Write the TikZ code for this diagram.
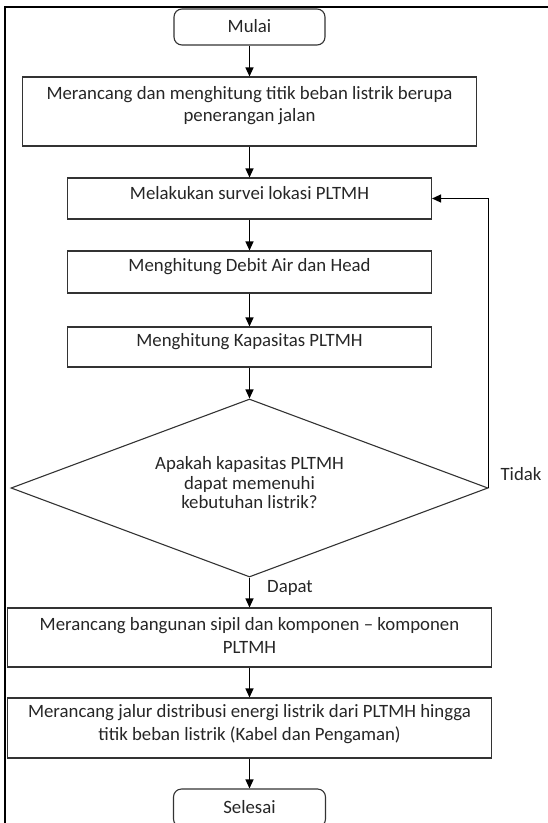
\documentclass[tikz,border=0pt]{standalone}
\usepackage{fontspec}
\setmainfont{Carlito}
\usetikzlibrary{arrows.meta,shapes.geometric}
\begin{document}
\begin{tikzpicture}[x=1pt,y=-1pt,
  box/.style={draw=black!80, line width=1.1pt, inner sep=0pt, rectangle},
  term/.style={box, rounded corners=8pt},
  txt/.style={font=\fontsize{18.8}{22.5}\selectfont, align=center, inner sep=0pt, text=black!85},
  dtxt/.style={font=\fontsize{18.8}{19.5}\selectfont, align=center, inner sep=0pt, text=black!85},
  arr/.style={line width=1.3pt, -{Triangle[length=9pt,width=8pt]}},
]
\useasboundingbox (0,0) rectangle (548,823);
\clip (0,0) rectangle (548,823);
\draw[line width=2pt] (5,7) rectangle (552,830);

\node[term, minimum width=151, minimum height=36] (start) at (249.5,27) {};
\node[txt] (tstart) at (249.5,26) {Mulai};

\node[box, minimum width=454, minimum height=69] (b1) at (249.5,111.5) {};
\node[txt] (tb1) at (249.5,105.5) {Merancang dan menghitung titik beban listrik berupa\\penerangan jalan};

\node[box, minimum width=364, minimum height=41] (b2) at (249.5,198.5) {};
\node[txt] (tb2) at (249.5,193) {Melakukan survei lokasi PLTMH};

\node[box, minimum width=364, minimum height=42] (b3) at (249.5,272) {};
\node[txt] (tb3) at (249.5,267) {Menghitung Debit Air dan Head};

\node[box, minimum width=364, minimum height=40] (b4) at (249.5,347) {};
\node[txt] (tb4) at (249.5,342) {Menghitung Kapasitas PLTMH};

\node[diamond, draw=black!80, line width=1.1pt, inner sep=0pt, minimum width=477, minimum height=178] (dia) at (249.5,488) {};
\node[dtxt] (tdia) at (249.5,483) {Apakah kapasitas PLTMH\\dapat memenuhi\\kebutuhan listrik?};

\node[box, minimum width=484, minimum height=59] (b5) at (249.5,637.5) {};
\node[txt] (tb5) at (249.5,635.5) {Merancang bangunan sipil dan komponen -- komponen\\PLTMH};

\node[box, minimum width=484, minimum height=60] (b6) at (249.5,728) {};
\node[txt] (tb6) at (249.5,724) {Merancang jalur distribusi energi listrik dari PLTMH hingga\\titik beban listrik (Kabel dan Pengaman)};

\node[term, minimum width=152, minimum height=38] (stop) at (249.5,808) {};
\node[txt] (tstop) at (249.5,807) {Selesai};

\node[txt] (tidak) at (521,474) {Tidak};
\node[txt] (dapat) at (290,588) {Dapat};

\draw[arr] (start.south) -- (b1.north);
\draw[arr] (b1.south) -- (b2.north);
\draw[arr] (b2.south) -- (b3.north);
\draw[arr] (b3.south) -- (b4.north);
\draw[arr] (b4.south) -- (dia.north);
\draw[arr] (dia.south) -- (b5.north);
\draw[arr] (b5.south) -- (b6.north);
\draw[arr] (b6.south) -- (stop.north);
\draw[arr] (dia.east) |- (b2.east);
\end{tikzpicture}
\end{document}
